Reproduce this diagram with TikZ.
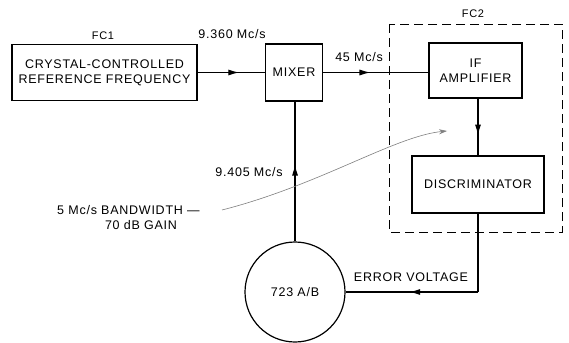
\documentclass[tikz,border=0pt]{standalone}
\usepackage{fontspec}
\setmainfont{Liberation Sans}[LetterSpace=6]
\usetikzlibrary{arrows.meta,decorations.markings}
\tikzset{
  blk/.style={draw, line width=1.2pt, inner sep=0pt, align=center, font=\fontsize{12.5}{15}\selectfont},
  lbl/.style={inner sep=0pt, font=\fontsize{12.5}{15}\selectfont},
  conn/.style={line width=1.2pt},
  midarrow/.style={postaction={decorate}, decoration={markings, mark=at position #1 with {\arrow{Latex[length=11pt,width=6pt]}}}},
  fcbox/.style={draw, line width=0.9pt, dash pattern=on 9pt off 5pt},
  note/.style={draw=gray, line width=0.6pt}
}
\begin{document}
\begin{tikzpicture}[x=1pt,y=-1pt]
\useasboundingbox (0,0) rectangle (569,342);
\fill[white] (0,0) rectangle (569,342);
% blocks
\node[blk, minimum width=185pt, minimum height=56pt] (crystal) at (104.5,72.5) {CRYSTAL-CONTROLLED\\REFERENCE FREQUENCY};
\node[blk, minimum width=57pt, minimum height=57pt] (mixer) at (294,72.5) {MIXER};
\node[blk, minimum width=93pt, minimum height=55pt] (ifamp) at (475.5,70.5) {IF\\AMPLIFIER};
\node[blk, minimum width=132pt, minimum height=57pt] (disc) at (478,184.5) {DISCRIMINATOR};
\node[blk, circle, minimum size=100pt] (circ) at (295,292) {723 A/B};
% dashed FC2 enclosure
\coordinate (fctl) at (389,24);
\coordinate (fcbr) at (562,232);
\draw[fcbox] (fctl) rectangle (fcbr);
% labels
\node[lbl, font=\fontsize{11}{13}\selectfont] (fc1) at (103,36) {FC1};
\node[lbl, font=\fontsize{11}{13}\selectfont] (fc2) at (473,14) {FC2};
\node[lbl] (f1) at (232,34) {9.360 Mc/s};
\node[lbl] (f2) at (359,57) {45 Mc/s};
\node[lbl] (f3) at (249,172) {9.405 Mc/s};
\node[lbl] (ev) at (411,277) {ERROR VOLTAGE};
\node[lbl, anchor=west] (bw) at (57,210) {5 Mc/s BANDWIDTH —};
\node[lbl] (gain) at (141,225) {70 dB GAIN};
% connectors
\draw[conn, midarrow=0.62] (crystal.east) -- (mixer.west);
\draw[conn, midarrow=0.45] (mixer.east) -- (mixer.east -| ifamp.west);
\draw[conn, midarrow=0.65] (disc.north |- ifamp.south) -- (disc.north);
\draw[conn, midarrow=0.55] (circ.north) -- (circ.north |- mixer.south);
\coordinate (evc) at (disc.south |- circ.east);
\draw[conn] (disc.south) -- (evc);
\draw[conn, midarrow=0.52] (evc) -- (circ.east);
% pointer curve
\coordinate (pstart) at (222,210);
\coordinate (pend) at (447,131);
\draw[note, -{Stealth[length=8pt,width=5pt]}] (pstart) .. controls (320,185) and (395,136) .. (pend);
\end{tikzpicture}
\end{document}
